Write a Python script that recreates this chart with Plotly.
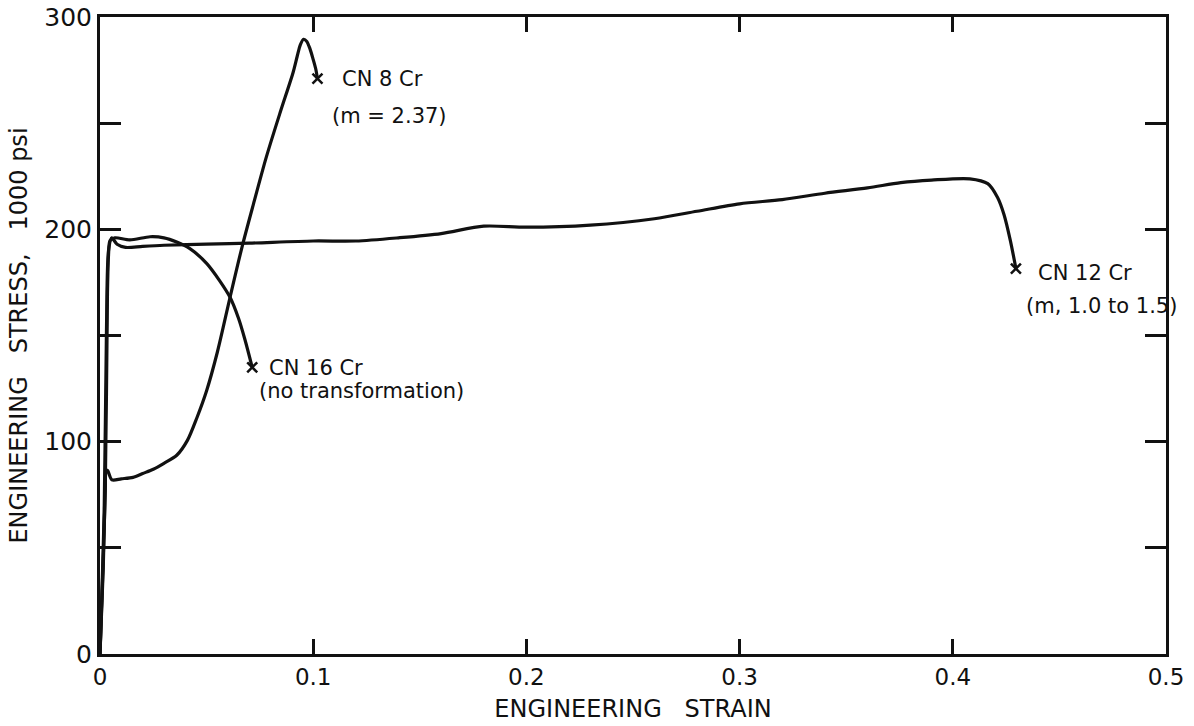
import plotly.graph_objects as go

# Engineering stress-strain curves (strain, stress in 1000 psi)
cn8_strain = [0.0, 0.0015, 0.0025, 0.0028, 0.0035, 0.0056, 0.010, 0.0155, 0.020, 0.025, 0.030,
              0.036, 0.041, 0.0455, 0.050, 0.055, 0.061, 0.0667, 0.072, 0.078, 0.0845, 0.0906,
              0.0925, 0.094, 0.0955, 0.097, 0.0985, 0.100, 0.1012, 0.102]
cn8_stress = [0.0, 40.0, 80.0, 86.0, 86.5, 82.0, 82.5, 83.2, 85.0, 87.0, 89.8,
              93.6, 100.6, 111.4, 124.0, 142.0, 168.0, 192.0, 212.0, 234.0, 255.0, 274.0,
              281.5, 287.0, 289.5, 288.5, 285.0, 280.0, 275.5, 271.0]

cn12_strain = [0.0, 0.002, 0.003, 0.004, 0.0055, 0.008, 0.012, 0.02, 0.03, 0.05, 0.07,
               0.10, 0.12, 0.14, 0.16, 0.18, 0.20, 0.23, 0.26, 0.28, 0.30, 0.32, 0.34,
               0.36, 0.3756, 0.39, 0.408, 0.4164, 0.421, 0.424, 0.427, 0.4296]
cn12_stress = [0.0, 70.0, 150.0, 190.0, 196.0, 193.0, 191.5, 192.0, 192.5, 193.0, 193.5,
               194.5, 194.5, 196.0, 198.0, 201.5, 201.0, 202.0, 205.0, 208.5, 212.0, 214.0, 217.0,
               219.5, 222.0, 223.2, 223.8, 221.5, 215.0, 207.0, 194.7, 181.5]

cn16_strain = [0.0, 0.0025, 0.0035, 0.004, 0.0047, 0.007, 0.014, 0.0235, 0.030, 0.036,
               0.042, 0.050, 0.056, 0.061, 0.065, 0.068, 0.0714]
cn16_stress = [0.0, 80.0, 170.0, 188.0, 194.7, 196.0, 195.0, 196.5, 196.0, 194.0,
               191.0, 184.0, 176.0, 168.0, 158.0, 148.0, 135.0]

x_ticks = [0, 0.1, 0.2, 0.3, 0.4, 0.5]
x_tick_text = ["0", "0.1", "0.2", "0.3", "0.4", "0.5"]
y_ticks = [0, 50, 100, 150, 200, 250, 300]
y_tick_text = ["0", "", "100", "", "200", "", "300"]

ink = "#111111"
font_family = "DejaVu Sans, Liberation Sans, sans-serif"

fig = go.Figure()
for xs, ys in [(cn8_strain, cn8_stress), (cn12_strain, cn12_stress), (cn16_strain, cn16_stress)]:
    fig.add_trace(go.Scatter(x=xs, y=ys, mode="lines",
                             line=dict(color=ink, width=3.2, shape="spline", smoothing=0.8),
                             hoverinfo="skip", showlegend=False))
    # fracture point marked with an x
    fig.add_trace(go.Scatter(x=[xs[-1]], y=[ys[-1]], mode="markers",
                             marker=dict(symbol="x-thin", size=10, line=dict(color=ink, width=2.5)),
                             hoverinfo="skip", showlegend=False))

labels = [
    (0.1127, 271, "CN 8 Cr"),
    (0.1080, 253.5, "(m = 2.37)"),
    (0.0784, 134.5, "CN 16 Cr"),
    (0.0737, 124, "(no transformation)"),
    (0.4390, 179.5, "CN 12 Cr"),
    (0.4333, 164, "(m, 1.0 to 1.5)"),
]
for x, y, t in labels:
    fig.add_annotation(x=x, y=y, text=t, showarrow=False, xanchor="left", yanchor="middle",
                       font=dict(family=font_family, size=21, color=ink))

fig.update_layout(
    width=1194, height=726,
    margin=dict(l=100, r=28, t=17, b=72),
    paper_bgcolor="white", plot_bgcolor="white",
    font=dict(family=font_family, color=ink),
    xaxis=dict(range=[0, 0.5], tickvals=x_ticks, ticktext=x_tick_text,
               ticks="inside", ticklen=15, tickwidth=2.5, tickcolor=ink,
               showline=True, linewidth=3, linecolor=ink, mirror="ticks",
               showgrid=False, zeroline=False, automargin=False,
               tickfont=dict(size=23, color=ink),
               title=dict(text="ENGINEERING   STRAIN", font=dict(size=24, color=ink), standoff=12)),
    yaxis=dict(range=[0, 300], tickvals=y_ticks, ticktext=y_tick_text,
               ticks="inside", ticklen=21, tickwidth=2.5, tickcolor=ink,
               showline=True, linewidth=3, linecolor=ink, mirror="ticks",
               showgrid=False, zeroline=False, automargin=False,
               tickfont=dict(size=25, color=ink),
               title=dict(text="ENGINEERING   STRESS,   1000 psi", font=dict(size=24, color=ink), standoff=10)),
)

fig.write_html("out.html")
